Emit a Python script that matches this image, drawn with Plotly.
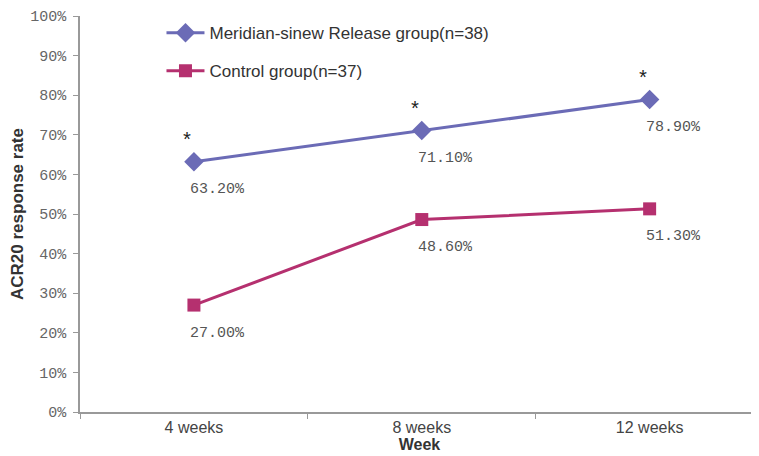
import plotly.graph_objects as go

weeks = ["4 weeks", "8 weeks", "12 weeks"]
release = [0.632, 0.711, 0.789]
control = [0.270, 0.486, 0.513]
release_labels = ["63.20%", "71.10%", "78.90%"]
control_labels = ["27.00%", "48.60%", "51.30%"]
sig = ["*", "*", "*"]

blue = "#6b6bb6"
red = "#b5306f"
mono = "Liberation Mono"
sans = "Liberation Sans, Arial"

fig = go.Figure()
fig.add_trace(go.Scatter(x=weeks, y=release, mode="lines+markers",
                         name="Meridian-sinew Release group(n=38)",
                         legendgroup="a",
                         line=dict(color=blue, width=3),
                         marker=dict(symbol="diamond", size=15, color=blue)))
fig.add_trace(go.Scatter(x=weeks, y=control, mode="lines+markers",
                         name="Control group(n=37)",
                         legendgroup="b",
                         line=dict(color=red, width=3),
                         marker=dict(symbol="square", size=13, color=red)))

ann = []
for w, v, t in zip(weeks, release, release_labels):
    ann.append(dict(x=w, y=v, text=t, showarrow=False, xshift=24, yshift=-28,
                    font=dict(family=mono, size=15, color="#555")))
for w, v, t in zip(weeks, control, control_labels):
    ann.append(dict(x=w, y=v, text=t, showarrow=False, xshift=24, yshift=-28,
                    font=dict(family=mono, size=15, color="#555")))
for w, v, s in zip(weeks, release, sig):
    ann.append(dict(x=w, y=v, text=s, showarrow=False, xshift=-7, yshift=20,
                    font=dict(family=mono, size=20, color="#222")))

fig.update_layout(
    width=751, height=448,
    margin=dict(l=72, r=0, t=8, b=44),
    paper_bgcolor="white", plot_bgcolor="white",
    annotations=ann,
    showlegend=True,
    legend=dict(x=0.12, y=1.002, xanchor="left", yanchor="top",
                traceorder="grouped", tracegroupgap=13, itemwidth=38,
                font=dict(family=sans, size=17, color="#333"),
                bgcolor="rgba(0,0,0,0)"),
    xaxis=dict(range=[-0.5, 2.48], showline=True, linecolor="#999", linewidth=1.5,
               ticks="outside", tickson="boundaries", ticklen=5, tickcolor="#999",
               showgrid=False, zeroline=False, automargin=False,
               tickfont=dict(family=sans, size=16, color="#444"),
               title=dict(text="<b>Week</b>", standoff=0,
                          font=dict(family=sans, size=16, color="#333"))),
    yaxis=dict(range=[0, 1], tickvals=[i / 10 for i in range(11)], tickformat=".0%",
               showline=True, linecolor="#999", linewidth=1.5,
               ticks="outside", ticklen=5, tickcolor="#999", ticklabelstandoff=4,
               showgrid=False, zeroline=False, automargin=False,
               tickfont=dict(family=mono, size=15, color="#666"),
               title=dict(text="<b>ACR20 response rate</b>", standoff=4,
                          font=dict(family=sans, size=17, color="#333"))),
)

fig.write_html("out.html")
